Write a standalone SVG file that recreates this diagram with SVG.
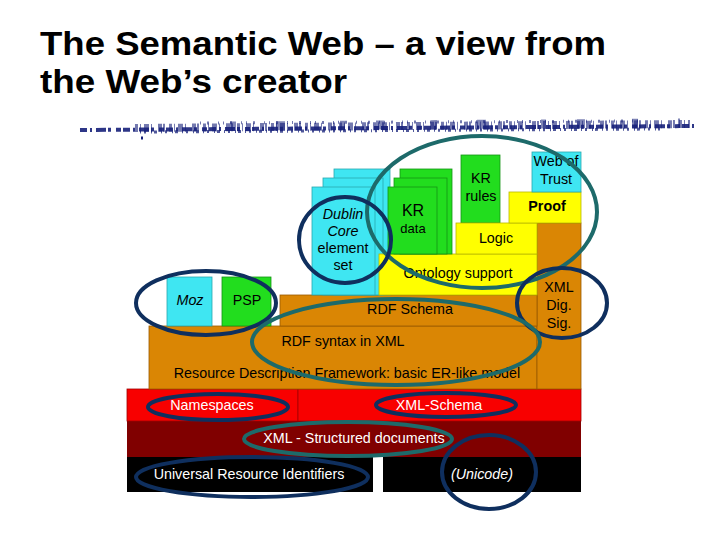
<svg xmlns="http://www.w3.org/2000/svg" width="720" height="540" viewBox="0 0 720 540">
<style>
text{font-family:"Liberation Sans",Arial,sans-serif;text-anchor:middle}
.t{font-size:33px;font-weight:bold;text-anchor:start;fill:#000}
.l{font-size:14.3px;fill:#000}
.w{font-size:14.3px;fill:#fff}
.i{font-style:italic}
.b{font-weight:bold}
.or{fill:#DA8604;stroke:#9A5A00;stroke-width:0.8}
.ye{fill:#FFFF00;stroke:#B8B800;stroke-width:0.8}
.cy{fill:#3FE6F2;stroke:#2AA8B0;stroke-width:0.8}
.gr{fill:#22DD1E;stroke:#149414;stroke-width:0.8}
.rd{fill:#F80000;stroke:#A00000;stroke-width:0.8}
.dr{fill:#800000}
.bk{fill:#000}
.nv{fill:none;stroke:#0F2F5E;stroke-width:4}
.tl{fill:none;stroke:#1D6A6A;stroke-width:4}
.sp{fill:none;stroke:#16207A}
</style>
<rect width="720" height="540" fill="#fff"/>
<g id="title">
<text class="t" x="40" y="55" textLength="566" lengthAdjust="spacingAndGlyphs">The Semantic Web – a view from</text>
<text class="t" x="40" y="93" textLength="307" lengthAdjust="spacingAndGlyphs">the Web’s creator</text>
</g>
<g id="rule">
<path class="sp" d="M80 130 L697 126" stroke-width="4" stroke-dasharray="7 3 2 4 10 2 3 5 5 2" opacity="0.9"/>
<path class="sp" d="M135 128 L690 124" stroke-width="8" stroke-dasharray="3 2 1 3 5 2 1 6 4 1 2 4" opacity="0.6"/>
<path class="sp" d="M140 132 L660 129" stroke-width="3" stroke-dasharray="1 3 2 5 1 2 3 4" opacity="0.75"/>
<path class="sp" d="M200 123 L640 121" stroke-width="3" stroke-dasharray="1 6 2 9 1 4" opacity="0.6"/>
<path class="sp" d="M230 126 L680 123" stroke-width="9" stroke-dasharray="6 40 9 55 5 31 8 47" opacity="0.55"/>
<path class="sp" d="M141 138 L143 138" stroke-width="3"/>
</g>
<g id="uri"><rect class="bk" x="127" y="457" width="246" height="35"/><text class="w" x="249" y="479">Universal Resource Identifiers</text></g>
<g id="unicode"><rect class="bk" x="383" y="457" width="198" height="35"/><text class="w i" x="482" y="479">(Unicode)</text></g>
<g id="xml"><rect class="dr" x="127" y="421" width="454" height="36"/><text class="w" x="354" y="443">XML - Structured documents</text></g>
<g id="namespaces"><rect class="rd" x="127" y="389" width="171" height="32"/><text class="w" x="212" y="410">Namespaces</text></g>
<g id="xmlschema"><rect class="rd" x="298" y="389" width="283" height="32"/><text class="w" x="439" y="410">XML-Schema</text></g>
<g id="rdf"><rect class="or" x="149" y="326" width="388" height="63"/><text class="l" x="343" y="346">RDF syntax in XML</text><text class="l" x="347" y="378">Resource Description Framework: basic ER-like model</text></g>
<g id="xmldigsig"><rect class="or" x="537" y="223" width="44" height="166"/><text class="l" x="559" y="292">XML</text><text class="l" x="559" y="310">Dig.</text><text class="l" x="559" y="328">Sig.</text></g>
<g id="rdfschema"><rect class="or" x="280" y="295" width="257" height="31"/><text class="l" x="410" y="314">RDF Schema</text></g>
<g id="moz"><rect class="cy" x="167" y="277" width="45" height="49"/><text class="l i" x="190" y="305">Moz</text></g>
<g id="psp"><rect class="gr" x="222" y="277" width="49" height="49"/><text class="l" x="247" y="305">PSP</text></g>
<g id="dublincore">
<rect class="cy" x="334" y="169" width="56" height="126"/>
<rect class="cy" x="323" y="178" width="60" height="117"/>
<rect class="cy" x="312" y="187" width="63" height="108"/>
<text class="l i" x="343" y="219">Dublin</text><text class="l i" x="343" y="236">Core</text><text class="l" x="343" y="253">element</text><text class="l" x="343" y="270">set</text>
</g>
<g id="ontology"><rect class="ye" x="379" y="254" width="158" height="41"/><text class="l" x="458" y="278">Ontology support</text></g>
<g id="krdata">
<rect class="gr" x="400" y="169" width="52" height="85"/>
<rect class="gr" x="394" y="178" width="53" height="76"/>
<rect class="gr" x="388" y="187" width="49" height="67"/>
<text class="l" x="413" y="216" style="font-size:16px">KR</text><text class="l" x="413" y="233" style="font-size:13px">data</text>
</g>
<g id="krrules"><rect class="gr" x="461" y="155" width="39" height="68"/><text class="l" x="481" y="183">KR</text><text class="l" x="481" y="201">rules</text></g>
<g id="logic"><rect class="ye" x="456" y="223" width="81" height="31"/><text class="l" x="496" y="243">Logic</text></g>
<g id="proof"><rect class="ye" x="509" y="192" width="72" height="31"/><text class="l b" x="547" y="211">Proof</text></g>
<g id="weboftrust"><rect class="cy" x="532" y="152" width="49" height="40"/><text class="l" x="556" y="166">Web of</text><text class="l" x="556" y="184">Trust</text></g>
<g id="highlights">
<ellipse class="tl" cx="482" cy="212" rx="115" ry="76"/>
<ellipse class="nv" cx="345" cy="240" rx="46" ry="43"/>
<ellipse class="nv" cx="206" cy="303" rx="70" ry="32"/>
<ellipse class="nv" cx="562" cy="303" rx="45" ry="35"/>
<ellipse class="tl" cx="396" cy="342" rx="144" ry="43"/>
<ellipse class="nv" cx="218" cy="407" rx="70" ry="13"/>
<ellipse class="nv" cx="446" cy="405" rx="70" ry="12"/>
<ellipse class="tl" cx="348" cy="439" rx="104" ry="17"/>
<ellipse class="nv" cx="252" cy="477" rx="116" ry="20"/>
<ellipse class="nv" cx="489" cy="472" rx="47" ry="37"/>
</g>
<g id="connectors"/>
</svg>
